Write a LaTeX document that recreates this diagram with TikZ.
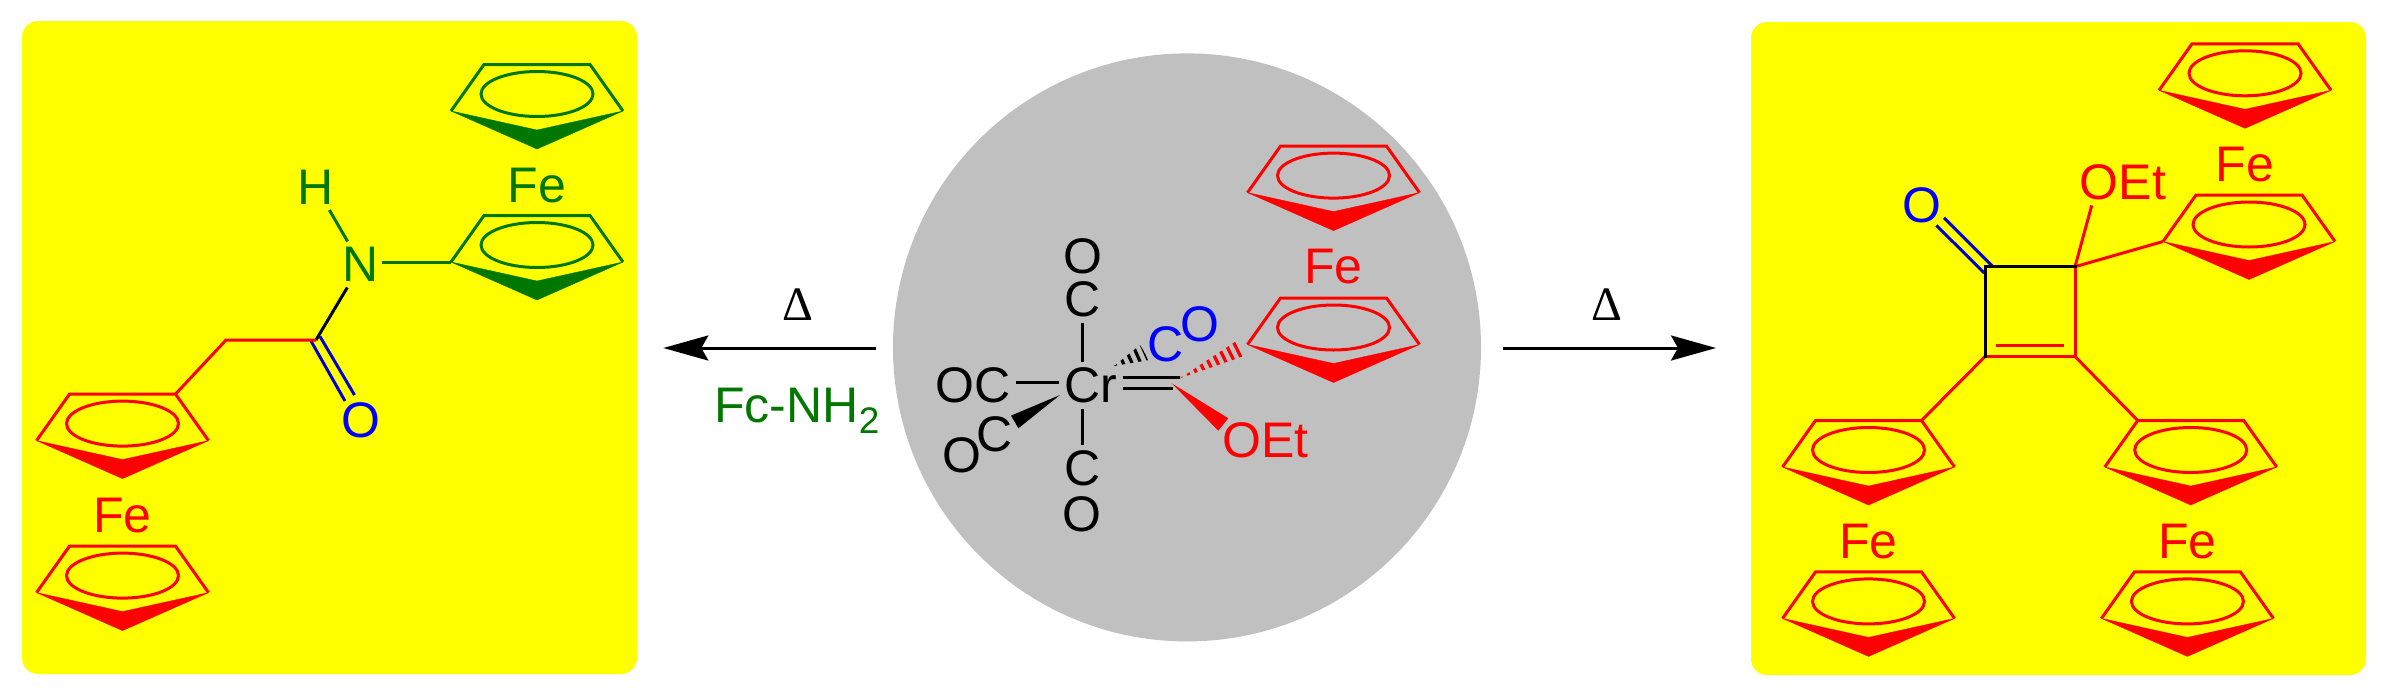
\documentclass[tikz,border=0pt]{standalone}
\usepackage{fontspec}
\setmainfont{Liberation Sans}
\newfontfamily\deltafont{Liberation Serif}
\usetikzlibrary{arrows.meta,calc}
\definecolor{fcgreen}{RGB}{0,120,0}
\definecolor{panelyellow}{RGB}{255,255,0}
\definecolor{circgray}{RGB}{192,192,192}
\definecolor{atomblue}{RGB}{0,0,255}
\definecolor{bondblue}{RGB}{0,0,210}
\tikzset{
  panel/.style={fill=panelyellow,rounded corners=8pt,draw=none},
  atom/.style={inner sep=2.7pt,font=\fontsize{25}{30}\selectfont},
  bond/.style={line width=1.5pt},
  ringline/.style={line width=1.5pt,line join=miter},
  rxn/.style={line width=1.5pt,-{Stealth[length=22.5pt,width=12.5pt,inset=3.5pt]}},
  wedgefill/.style={line width=0.2pt},
}
\newcommand{\fcring}[4]{%
  \begin{scope}[shift={(#2,#3)}]
    \coordinate (#1-tl) at (-53,-29.5);
    \coordinate (#1-tr) at (53,-29.5);
    \coordinate (#1-r) at (86,17);
    \coordinate (#1-l) at (-86,17);
    \coordinate (#1-in) at (0,36);
    \coordinate (#1-tip) at (0,55);
    \coordinate (#1-c) at (0,0);
    \draw[ringline,draw=#4] (#1-l) -- (#1-tl) -- (#1-tr) -- (#1-r);
    \fill[#4,draw=#4,wedgefill] (#1-l) -- (#1-in) -- (#1-r) -- (#1-tip) -- cycle;
    \draw[ringline,draw=#4] (#1-c) ellipse [x radius=56,y radius=22.5];
  \end{scope}}
\newcommand{\hashwedge}[6]{% tip, base1, base2, col, on, off
  \begin{scope}
    \clip (#1) -- (#2) -- (#3) -- cycle;
    \draw[#4,line width=14pt,dash pattern=on #5 off #6] (#1) -- ($(#2)!0.5!(#3)$);
  \end{scope}}
\begin{document}
\begin{tikzpicture}[x=0.5pt,y=-0.5pt]
\useasboundingbox (0,0) rectangle (2388,697);
\fill[white] (0,0) rectangle (2388,697);
% panels
\path[panel] (22,21) rectangle (637,674);
\path[panel] (1751,22) rectangle (2366,675);
\fill[circgray] (1187,347.4) circle [radius=294];
% ---------- left product
\fcring{la}{537}{94}{fcgreen}
\fcring{lb}{537}{245}{fcgreen}
\fcring{lc}{122.5}{423.6}{red}
\fcring{ld}{122.5}{575.6}{red}
\node[atom,text=fcgreen] (lfe1) at (537,186) {Fe};
\node[atom,text=red] (lfe2) at (122.5,515.6) {Fe};
\node[atom,text=fcgreen] (lh) at (316,187) {H};
\node[atom,text=fcgreen] (ln) at (361,264.5) {N};
\node[atom,text=atomblue] (lo) at (361,420) {O};
\coordinate (lco) at (316,340);
\coordinate (lch2) at (226,340);
\coordinate (lo1) at (311,341);
\coordinate (lo2) at (345,401);
\coordinate (lo3) at (320,336.5);
\coordinate (lo4) at (354.5,395);
\coordinate (lne) at ($(ln.east)+(-3,0)$);
\draw[bond,fcgreen] (lh) -- (ln);
\draw[bond,fcgreen] (lb-l -| lne) -- (lb-l);
\draw[bond,black] (ln) -- (lco);
\draw[bond,bondblue] (lo1) -- (lo2);
\draw[bond,bondblue] (lo3) -- (lo4);
\draw[bond,red,line join=miter] (lc-tr) -- (lch2) -- (lco);
% ---------- arrows
\coordinate (al1) at (876,348);
\coordinate (al2) at (663.3,348);
\coordinate (ar1) at (1503,348);
\coordinate (ar2) at (1716,348);
\draw[rxn] (al1) -- (al2);
\draw[rxn] (ar1) -- (ar2);
\node[inner sep=0pt,font=\fontsize{24}{28}\selectfont\deltafont] (d1) at (797.7,305) {Δ};
\node[inner sep=0pt,font=\fontsize{24}{28}\selectfont\deltafont] (d2) at (1606.7,304.5) {Δ};
\node[inner sep=0pt,anchor=base west,text=fcgreen,font=\fontsize{25}{30}\selectfont] (fcnh) at (714,422) {Fc-NH\raisebox{-5.5pt}{\fontsize{18.5}{22}\selectfont 2}};
% ---------- centre complex
\fcring{ca}{1333.5}{175.6}{red}
\fcring{cb}{1333.5}{327.5}{red}
\node[atom,text=red] (cfe) at (1333.5,267) {Fe};
\node[atom] (cr) at (1091,385) {Cr};
\node[atom] (o1) at (1082.5,256.7) {O};
\node[atom] (c1) at (1082.5,299) {C};
\node[atom] (oc) at (973,385) {OC};
\node[atom] (c4) at (1082.5,468) {C};
\node[atom] (o4) at (1081.7,514.5) {O};
\node[atom] (c3) at (994.7,434.6) {C};
\node[atom] (o3) at (962,455) {O};
\node[atom,text=atomblue] (c2) at (1165.5,344.5) {C};
\node[atom,text=atomblue] (o2) at (1199.5,324) {O};
\node[atom,text=red] (oet) at (1265.5,440) {OEt};
\draw[bond] (c1) -- (c1 |- cr.north);
\draw[bond] (c4) -- (c4 |- cr.south);
\coordinate (oce) at ($(oc.east)+(0,-2.5)$);
\draw[bond] (oce) -- (oce -| cr.west);
% black wedge
\coordinate (bwt) at (1060,395);
\coordinate (bw1) at (1011,415.6);
\coordinate (bw2) at (1018.4,428.3);
\fill[black] (bwt) -- (bw1) -- (bw2) -- cycle;
% black hash
\coordinate (bht) at (1114,366);
\coordinate (bh1) at (1140,345);
\coordinate (bh2) at (1149.3,360);
\hashwedge{bht}{bh1}{bh2}{black}{1.6pt}{2.4pt}
% carbene
\coordinate (cb1) at (1123,377.5);
\coordinate (cb2) at (1180,377.5);
\coordinate (cb3) at (1123,388.5);
\coordinate (cb4) at (1173,388.5);
\draw[bond] (cb1) -- (cb2);
\draw[bond] (cb3) -- (cb4);
% red hash
\coordinate (rht) at (1180,378.3);
\coordinate (rh1) at (1236.7,340.7);
\coordinate (rh2) at (1244,356);
\hashwedge{rht}{rh1}{rh2}{red}{1.6pt}{2.3pt}
% red wedge
\coordinate (rwt) at (1171.7,383.3);
\coordinate (rw1) at (1228.3,418.3);
\coordinate (rw2) at (1218.3,430.7);
\fill[red] (rwt) -- (rw1) -- (rw2) -- cycle;
% ---------- right product
\fcring{ra}{2245}{73.3}{red}
\fcring{rb}{2249}{224.5}{red}
\fcring{rc}{1868.5}{450}{red}
\fcring{rd}{1868.5}{601.4}{red}
\fcring{re}{2190.7}{450}{red}
\fcring{rf}{2187.4}{601.4}{red}
\node[atom,text=red] (rfe1) at (2245,165) {Fe};
\node[atom,text=red] (rfe2) at (1868.5,541.4) {Fe};
\node[atom,text=red] (rfe3) at (2187.4,541.4) {Fe};
\node[atom,text=red] (roet) at (2123,182) {OEt};
\node[atom,text=atomblue] (ro) at (1922,205) {O};
\coordinate (stl) at (1985,266.7);
\coordinate (str) at (2075,266.7);
\coordinate (sbr) at (2075,356.5);
\coordinate (sbl) at (1985,356.5);
\coordinate (dbl1) at (1996.4,345.4);
\coordinate (dbl2) at (2064.4,345.4);
\coordinate (oetb) at (2091.7,205.4);
\coordinate (ro1) at (1936.4,225.4);
\coordinate (ro2) at (1984.3,273);
\coordinate (ro3) at (1944,217.8);
\coordinate (ro4) at (1992,265.8);
\draw[bond,bondblue] (ro1) -- (ro2);
\draw[bond,bondblue] (ro3) -- (ro4);
\draw[bond,red] (oetb) -- (str);
\draw[bond,red] (str) -- (rb-l);
\draw[bond,red] (sbl) -- (rc-tr);
\draw[bond,red] (sbr) -- (re-tl);
\draw[bond,red,line join=miter,line cap=rect] (str) -- (sbr) -- (sbl);
\draw[bond,red] (dbl1) -- (dbl2);
\draw[bond,black,line join=miter,line cap=rect] (sbl) -- (stl) -- (str);
\end{tikzpicture}
\end{document}
